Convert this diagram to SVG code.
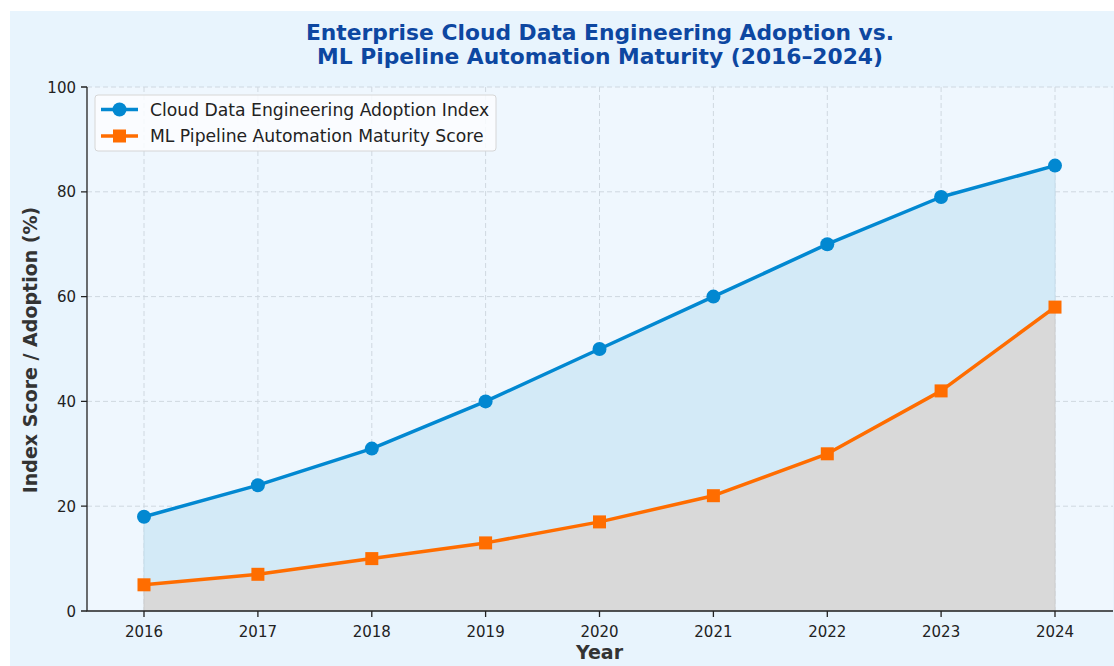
<svg xmlns="http://www.w3.org/2000/svg" width="1114" height="666" viewBox="0 0 1114 666">
  <style>
    .tick { font-family: "DejaVu Sans", sans-serif; font-size: 15px; fill: #222; }
    .grid { stroke: #cfd8e0; stroke-width: 1; stroke-dasharray: 5 3; fill: none; }
    .spine { stroke: #222; stroke-width: 1.3; fill: none; }
    .title { font-family: "DejaVu Sans", sans-serif; font-size: 21.8px; font-weight: bold; fill: #0d47a1; }
    .axlabel { font-family: "DejaVu Sans", sans-serif; font-size: 19px; font-weight: bold; fill: #333; }
    .legtext { font-family: "DejaVu Sans", sans-serif; font-size: 17.2px; fill: #222; }
    .blue { stroke: #0288d1; stroke-width: 3.5; fill: none; stroke-linejoin: round; }
    .orange { stroke: #ff6d00; stroke-width: 3.5; fill: none; stroke-linejoin: round; }
  </style>
  <defs>
    <circle id="dot" r="7" fill="#0288d1"/>
    <rect id="sq" x="-6.5" y="-6.5" width="13" height="13" fill="#ff6d00"/>
  </defs>

  <!-- figure background -->
  <rect x="10" y="11" width="1104" height="655" fill="#e8f4fd"/>
  <!-- axes background -->
  <rect x="87" y="87" width="1026" height="524" fill="#eff7fe"/>

  <!-- title -->
  <text class="title" x="600" y="39.5" text-anchor="middle">Enterprise Cloud Data Engineering Adoption vs.</text>
  <text class="title" x="600" y="63.5" text-anchor="middle">ML Pipeline Automation Maturity (2016–2024)</text>

  <!-- grid -->
  <g id="grid">
    <path class="grid" d="M144 87V611M257.9 87V611M371.8 87V611M485.6 87V611M599.5 87V611M713.4 87V611M827.3 87V611M941.1 87V611M1055 87V611"/>
    <path class="grid" d="M87 87H1113M87 191.8H1113M87 296.6H1113M87 401.4H1113M87 506.2H1113"/>
  </g>

  <!-- filled areas -->
  <g id="areas">
    <polygon fill="#d3eaf7" stroke="#c4dcea" stroke-width="1" points="144,516.7 257.9,485.2 371.8,448.6 485.6,401.4 599.5,349 713.4,296.6 827.3,244.2 941.1,197 1055,165.6 1055,307.1 941.1,390.9 827.3,453.8 713.4,495.7 599.5,521.9 485.6,542.9 371.8,558.6 257.9,574.3 144,584.8"/>
    <polygon fill="#d9d9d9" stroke="#cccccc" stroke-width="1" points="144,584.8 257.9,574.3 371.8,558.6 485.6,542.9 599.5,521.9 713.4,495.7 827.3,453.8 941.1,390.9 1055,307.1 1055,611 144,611"/>
  </g>

  <!-- series lines and markers -->
  <g id="series-cloud">
    <polyline class="blue" points="144,516.7 257.9,485.2 371.8,448.6 485.6,401.4 599.5,349 713.4,296.6 827.3,244.2 941.1,197 1055,165.6"/>
    <use href="#dot" x="144" y="516.7"/><use href="#dot" x="257.9" y="485.2"/><use href="#dot" x="371.8" y="448.6"/>
    <use href="#dot" x="485.6" y="401.4"/><use href="#dot" x="599.5" y="349"/><use href="#dot" x="713.4" y="296.6"/>
    <use href="#dot" x="827.3" y="244.2"/><use href="#dot" x="941.1" y="197"/><use href="#dot" x="1055" y="165.6"/>
  </g>
  <g id="series-ml">
    <polyline class="orange" points="144,584.8 257.9,574.3 371.8,558.6 485.6,542.9 599.5,521.9 713.4,495.7 827.3,453.8 941.1,390.9 1055,307.1"/>
    <use href="#sq" x="144" y="584.8"/><use href="#sq" x="257.9" y="574.3"/><use href="#sq" x="371.8" y="558.6"/>
    <use href="#sq" x="485.6" y="542.9"/><use href="#sq" x="599.5" y="521.9"/><use href="#sq" x="713.4" y="495.7"/>
    <use href="#sq" x="827.3" y="453.8"/><use href="#sq" x="941.1" y="390.9"/><use href="#sq" x="1055" y="307.1"/>
  </g>

  <!-- spines and ticks -->
  <g id="axes">
    <path class="spine" d="M87 87V611H1113"/>
    <path class="spine" d="M81 87H87M81 191.8H87M81 296.6H87M81 401.4H87M81 506.2H87M81 611H87"/>
    <path class="spine" d="M144 611V617M257.9 611V617M371.8 611V617M485.6 611V617M599.5 611V617M713.4 611V617M827.3 611V617M941.1 611V617M1055 611V617"/>
    <g class="tick" text-anchor="end">
      <text x="76" y="92.5">100</text>
      <text x="76" y="197.3">80</text>
      <text x="76" y="302.1">60</text>
      <text x="76" y="406.9">40</text>
      <text x="76" y="511.7">20</text>
      <text x="76" y="616.5">0</text>
    </g>
    <g class="tick" text-anchor="middle">
      <text x="144" y="637">2016</text>
      <text x="257.9" y="637">2017</text>
      <text x="371.8" y="637">2018</text>
      <text x="485.6" y="637">2019</text>
      <text x="599.5" y="637">2020</text>
      <text x="713.4" y="637">2021</text>
      <text x="827.3" y="637">2022</text>
      <text x="941.1" y="637">2023</text>
      <text x="1055" y="637">2024</text>
    </g>
    <text class="axlabel" x="599.5" y="659" text-anchor="middle">Year</text>
    <text class="axlabel" transform="translate(37 350) rotate(-90)" text-anchor="middle">Index Score / Adoption (%)</text>
  </g>

  <!-- legend -->
  <g id="legend">
    <rect x="95" y="95" width="401" height="56" rx="3" fill="#fbfdff" fill-opacity="0.85" stroke="#d6d6d6" stroke-width="1"/>
    <line x1="101" y1="109.5" x2="138" y2="109.5" class="blue"/>
    <use href="#dot" x="119.5" y="109.5"/>
    <text class="legtext" x="150" y="115.5">Cloud Data Engineering Adoption Index</text>
    <line x1="101" y1="136" x2="138" y2="136" class="orange"/>
    <use href="#sq" x="119.5" y="136"/>
    <text class="legtext" x="150" y="142">ML Pipeline Automation Maturity Score</text>
  </g>
</svg>
